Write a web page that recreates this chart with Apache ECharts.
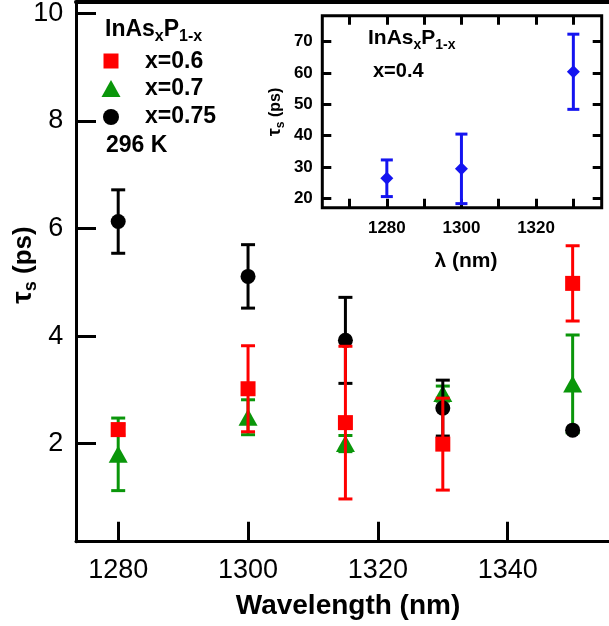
<!DOCTYPE html>
<html>
<head>
<meta charset="utf-8">
<script src="https://cdn.jsdelivr.net/npm/echarts@6/dist/echarts.min.js"></script>
<style>
html,body{margin:0;padding:0;background:#fff;}
#chart{width:609px;height:626px;}
</style>
</head>
<body>
<div id="chart"></div>
<script>
// ---------- data ----------
const wavelengths = [1280, 1300, 1315, 1330, 1350];
const tau_x06 = [2.26, 3.02, 2.39, 1.99, 4.98];
const err_x06 = [0.10, 0.80, 1.42, 0.855, 0.70];
const tau_x07 = [1.80, 2.49, 2.00, 2.93, 3.11];
const err_x07 = [0.675, 0.325, 0.15, 0.14, 0.91];
const tau_x075 = [6.13, 5.11, 3.92, 2.66, 2.25];
const err_x075 = [0.59, 0.59, 0.80, 0.52, 0.0];

const insetWavelengths = [1280, 1300, 1330];
const tau_x04 = [26.4, 29.4, 60.4];
const err_x04 = [5.85, 11.1, 12.0];

const xTicks = [1280, 1300, 1320, 1340];
const yTicks = [2, 4, 6, 8, 10];
const insetXLabels = [1280, 1300, 1320];
const insetXTicks = [1270, 1280, 1290, 1300, 1310, 1320, 1330];
const insetYTicks = [20, 30, 40, 50, 60, 70];

// ---------- helpers ----------
const FONT = '"Liberation Sans", Arial, Helvetica, sans-serif';
const RED = '#ff0000', GREEN = '#0a960a', BLACK = '#000000', BLUE = '#1414f0';

function zip3(a, b, c) { return a.map((v, i) => [v, b[i], c[i]]); }
const plain = v => String(v);

const measCtx = document.createElement('canvas').getContext('2d');
function textW(t, font) { measCtx.font = font; return measCtx.measureText(t).width; }

// text made of pieces with subscript offsets; x,y = start of baseline
function pieceText(x, y, parts, opts) {
  opts = opts || {};
  const fonts = parts.map(p => 'bold ' + p.size + 'px ' + FONT);
  const widths = parts.map((p, i) => textW(p.text, fonts[i]));
  const total = widths.reduce((a, b) => a + b, 0);
  let cx = opts.center ? -total / 2 : 0;
  const children = parts.map((p, i) => {
    const el = { type: 'text', x: cx, y: (p.dy || 0) - 0.32 * p.size, z: 30,
      style: { text: p.text, font: fonts[i], fill: '#000', textAlign: 'left', textVerticalAlign: 'middle' } };
    cx += widths[i];
    return el;
  });
  return { type: 'group', x: x, y: y, rotation: opts.rotation || 0, z: 30, children: children };
}

function errRenderer(color, capW, lw, yMin) {
  return function (params, api) {
    const x = api.value(0), y = api.value(1), e = api.value(2);
    if (!e) return null;
    let loV = y - e, clipped = false;
    if (yMin !== undefined && loV < yMin) { loV = yMin; clipped = true; }
    const hi = api.coord([x, y + e]);
    const lo = api.coord([x, loV]);
    const st = { stroke: color, lineWidth: lw };
    const h = capW / 2;
    const ch = [
      { type: 'line', shape: { x1: hi[0], y1: hi[1], x2: lo[0], y2: lo[1] }, style: st },
      { type: 'line', shape: { x1: hi[0] - h, y1: hi[1], x2: hi[0] + h, y2: hi[1] }, style: st }
    ];
    if (!clipped) ch.push({ type: 'line', shape: { x1: lo[0] - h, y1: lo[1], x2: lo[0] + h, y2: lo[1] }, style: st });
    return { type: 'group', children: ch };
  };
}

const mainYMin = 0.175, mainYMax = 10.21;
const insetYMin = 17.0, insetYMax = 78.3;

const chart = echarts.init(document.getElementById('chart'), null, { renderer: 'canvas' });

const axisLineMain = { show: true, lineStyle: { color: '#000', width: 3 } };

const option = {
  animation: false,
  backgroundColor: '#fff',
  grid: [
    { left: 76, top: 2, right: 0, bottom: 84.3, containLabel: false },
    { left: 322.3, top: 15.7, right: 7.3, bottom: 418.3, containLabel: false,
      show: true, borderColor: '#000', borderWidth: 3, backgroundColor: '#fff', z: 10 }
  ],
  xAxis: [
    { gridIndex: 0, type: 'value', min: 1273.5, max: 1355.6, position: 'bottom',
      axisLine: axisLineMain,
      axisTick: { show: true, inside: true, length: 20, lineStyle: { width: 3, color: '#000' }, customValues: xTicks },
      axisLabel: { show: true, margin: 15, fontSize: 27, color: '#000', fontFamily: FONT, customValues: xTicks, formatter: plain },
      splitLine: { show: false } },
    { gridIndex: 0, type: 'value', min: 1273.5, max: 1355.6, position: 'top',
      axisLine: { show: true, onZero: false, lineStyle: { color: '#000', width: 4 } },
      axisTick: { show: false }, axisLabel: { show: false }, splitLine: { show: false } },
    { gridIndex: 1, type: 'value', min: 1262.7, max: 1337.6, position: 'bottom',
      axisLine: { show: false },
      axisTick: { show: true, inside: true, length: 9, lineStyle: { width: 3, color: '#000' }, customValues: insetXTicks },
      axisLabel: { show: true, margin: 12, fontSize: 17, fontWeight: 'bold', color: '#000', fontFamily: FONT, customValues: insetXLabels, formatter: plain },
      splitLine: { show: false }, z: 11 },
    { gridIndex: 1, type: 'value', min: 1262.7, max: 1337.6, position: 'top',
      axisLine: { show: false },
      axisTick: { show: true, inside: true, length: 9, lineStyle: { width: 3, color: '#000' }, customValues: insetXTicks },
      axisLabel: { show: false }, splitLine: { show: false }, z: 11 }
  ],
  yAxis: [
    { gridIndex: 0, type: 'value', min: mainYMin, max: mainYMax, position: 'left',
      axisLine: axisLineMain,
      axisTick: { show: true, inside: true, length: 20, lineStyle: { width: 3, color: '#000' }, customValues: yTicks },
      axisLabel: { show: true, margin: 12.7, fontSize: 27, color: '#000', fontFamily: FONT, customValues: yTicks, formatter: plain },
      splitLine: { show: false } },
    { gridIndex: 1, type: 'value', min: insetYMin, max: insetYMax, position: 'left',
      axisLine: { show: false },
      axisTick: { show: true, inside: true, length: 9, lineStyle: { width: 3, color: '#000' }, customValues: insetYTicks },
      axisLabel: { show: true, margin: 9.5, fontSize: 17, fontWeight: 'bold', color: '#000', fontFamily: FONT, customValues: insetYTicks, formatter: plain },
      splitLine: { show: false }, z: 11 },
    { gridIndex: 1, type: 'value', min: insetYMin, max: insetYMax, position: 'right',
      axisLine: { show: false },
      axisTick: { show: true, inside: true, length: 9, lineStyle: { width: 3, color: '#000' }, customValues: insetYTicks },
      axisLabel: { show: false }, splitLine: { show: false }, z: 11 }
  ],
  series: [
    { type: 'custom', xAxisIndex: 0, yAxisIndex: 0, renderItem: errRenderer(GREEN, 14, 3),
      data: zip3(wavelengths, tau_x07, err_x07), z: 2, silent: true },
    { type: 'scatter', xAxisIndex: 0, yAxisIndex: 0, symbol: 'triangle', symbolSize: [19, 17],
      itemStyle: { color: GREEN, opacity: 1 }, data: wavelengths.map((w, i) => [w, tau_x07[i]]), z: 3 },
    { type: 'custom', xAxisIndex: 0, yAxisIndex: 0, renderItem: errRenderer(BLACK, 14, 3),
      data: zip3(wavelengths, tau_x075, err_x075), z: 4, silent: true },
    { type: 'scatter', xAxisIndex: 0, yAxisIndex: 0, symbol: 'circle', symbolSize: 15,
      itemStyle: { color: BLACK, opacity: 1 }, data: wavelengths.map((w, i) => [w, tau_x075[i]]), z: 5 },
    { type: 'custom', xAxisIndex: 0, yAxisIndex: 0, renderItem: errRenderer(RED, 14, 3),
      data: zip3(wavelengths, tau_x06, err_x06), z: 6, silent: true },
    { type: 'scatter', xAxisIndex: 0, yAxisIndex: 0, symbol: 'rect', symbolSize: 15,
      itemStyle: { color: RED, opacity: 1 }, data: wavelengths.map((w, i) => [w, tau_x06[i]]), z: 7 },

    { type: 'custom', xAxisIndex: 2, yAxisIndex: 1, renderItem: errRenderer(BLUE, 12, 3, insetYMin),
      data: zip3(insetWavelengths, tau_x04, err_x04), z: 12, silent: true },
    { type: 'scatter', xAxisIndex: 2, yAxisIndex: 1, symbol: 'diamond', symbolSize: [13, 13],
      itemStyle: { color: BLUE, opacity: 1 }, data: insetWavelengths.map((w, i) => [w, tau_x04[i]]), z: 13 }
  ],
  graphic: [
    // main legend
    pieceText(105, 37, [
      { text: 'InAs', size: 23 }, { text: 'x', size: 16, dy: 5 },
      { text: 'P', size: 23 }, { text: '1-x', size: 16, dy: 5 }]),
    { type: 'rect', shape: { x: 103.5, y: 53.5, width: 15, height: 15 }, style: { fill: RED }, z: 30 },
    { type: 'polygon', shape: { points: [[111, 80], [101.5, 97], [120.5, 97]] }, style: { fill: GREEN }, z: 30 },
    { type: 'circle', shape: { cx: 111, cy: 117, r: 8 }, style: { fill: BLACK }, z: 30 },
    { type: 'text', x: 145, y: 62, z: 30, style: { text: 'x=0.6', font: 'bold 23px ' + FONT, fill: '#000', textVerticalAlign: 'middle' } },
    { type: 'text', x: 145, y: 89, z: 30, style: { text: 'x=0.7', font: 'bold 23px ' + FONT, fill: '#000', textVerticalAlign: 'middle' } },
    { type: 'text', x: 145, y: 117, z: 30, style: { text: 'x=0.75', font: 'bold 23px ' + FONT, fill: '#000', textVerticalAlign: 'middle' } },
    { type: 'text', x: 106, y: 146, z: 30, style: { text: '296 K', font: 'bold 23px ' + FONT, fill: '#000', textVerticalAlign: 'middle' } },

    // main y-axis name (rotated)
    pieceText(32, 265, [
      { text: 'τ', size: 28 }, { text: 's', size: 18, dy: 5 }, { text: ' (ps)', size: 26 }],
      { rotation: Math.PI / 2, center: true }),
    // main x-axis name
    { type: 'text', x: 348, y: 606, z: 30, style: { text: 'Wavelength (nm)', font: 'bold 28px ' + FONT, fill: '#000', textAlign: 'center', textVerticalAlign: 'middle' } },

    // inset texts
    pieceText(368, 45, [
      { text: 'InAs', size: 21 }, { text: 'x', size: 14, dy: 5 },
      { text: 'P', size: 21 }, { text: '1-x', size: 14, dy: 5 }]),
    { type: 'text', x: 373, y: 71, z: 30, style: { text: 'x=0.4', font: 'bold 20px ' + FONT, fill: '#000', textVerticalAlign: 'middle' } },
    pieceText(281, 112, [
      { text: 'τ', size: 18 }, { text: 's', size: 12, dy: 4 }, { text: ' (ps)', size: 16 }],
      { rotation: Math.PI / 2, center: true }),
    { type: 'text', x: 466, y: 261, z: 30, style: { text: 'λ (nm)', font: 'bold 21px ' + FONT, fill: '#000', textAlign: 'center', textVerticalAlign: 'middle' } }
  ]
};
chart.setOption(option);
</script>
</body>
</html>
